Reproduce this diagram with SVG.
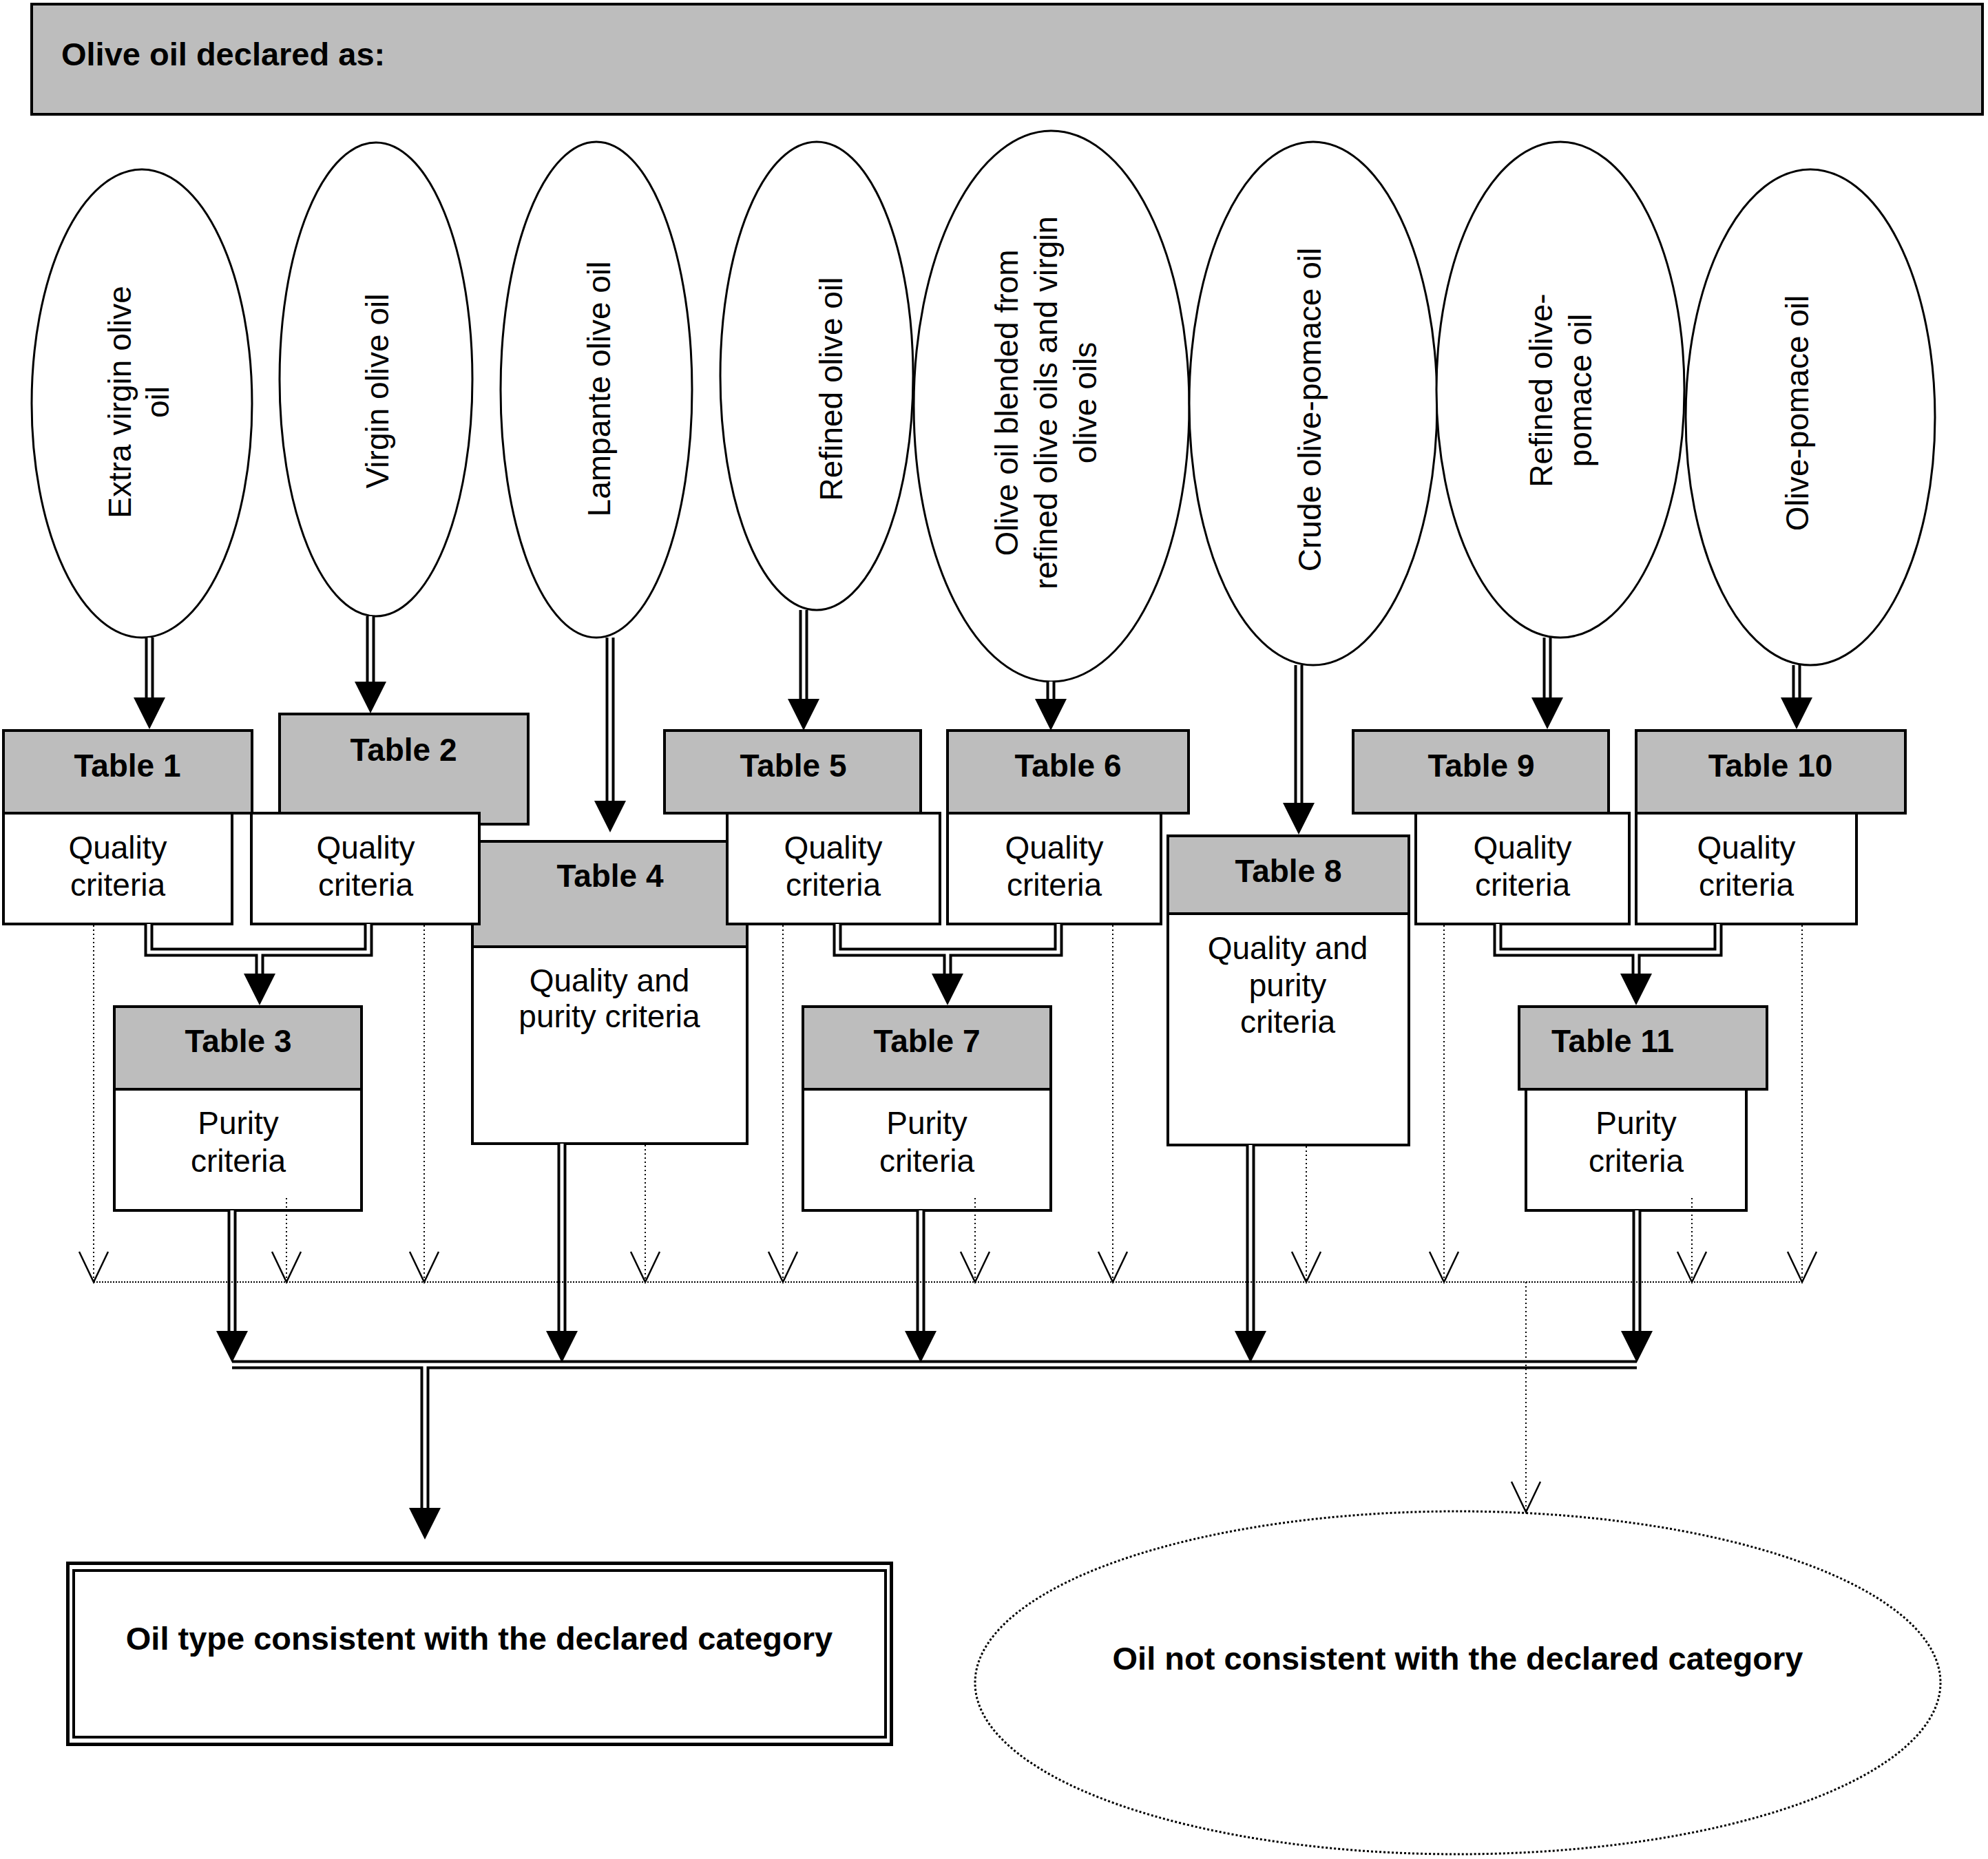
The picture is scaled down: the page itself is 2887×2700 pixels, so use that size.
<svg xmlns="http://www.w3.org/2000/svg" xmlns:xlink="http://www.w3.org/1999/xlink" width="2887" height="2700" viewBox="0 0 2887 2700">
<style>
.hdr{fill:#bdbdbd;stroke:#000;stroke-width:4}
.box{fill:#fff;stroke:#000;stroke-width:4}
.ell{fill:#fff;stroke:#000;stroke-width:3}
.t{font-family:"Liberation Sans",Arial,sans-serif;font-size:46px;text-anchor:middle;fill:#000}
.b{font-weight:bold}
.dbo{fill:none;stroke:#000;stroke-width:13}
.dbi{fill:none;stroke:#fff;stroke-width:5}
.dot{fill:none;stroke:#000;stroke-width:2;stroke-dasharray:2 4}
.doth{fill:none;stroke:#000;stroke-width:2;stroke-dasharray:2 2}
.vh{fill:none;stroke:#000;stroke-width:2.5}
</style>
<defs>
<polygon id="ah" points="-23,-46 23,-46 0,0" fill="#000"/>
<polyline id="vh" points="-21,-44 0,0 21,-44" class="vh"/>
</defs>
<rect width="2887" height="2700" fill="#fff"/>

<g id="title">
<rect x="46" y="6" width="2833" height="160" class="hdr"/>
<text x="89" y="95" class="t b" style="text-anchor:start;font-size:47px">Olive oil declared as:</text>
</g>

<g id="e1"><ellipse cx="206" cy="586" rx="160" ry="340" class="ell"/>
<text class="t" transform="translate(190,584) rotate(-90)"><tspan x="0" y="0">Extra virgin olive</tspan><tspan x="0" y="55">oil</tspan></text></g>
<g id="e2"><ellipse cx="546" cy="551" rx="140" ry="344" class="ell"/>
<text class="t" transform="translate(564,568) rotate(-90)">Virgin olive oil</text></g>
<g id="e3"><ellipse cx="866" cy="566" rx="139" ry="360" class="ell"/>
<text class="t" transform="translate(886,565) rotate(-90)">Lampante olive oil</text></g>
<g id="e4"><ellipse cx="1186" cy="546" rx="140" ry="340" class="ell"/>
<text class="t" transform="translate(1223,565) rotate(-90)">Refined olive oil</text></g>
<g id="e5"><ellipse cx="1527" cy="590" rx="200" ry="400" class="ell"/>
<text class="t" transform="translate(1478,585) rotate(-90)"><tspan x="0" y="0">Olive oil blended from</tspan><tspan x="0" y="57">refined olive oils and virgin</tspan><tspan x="0" y="114">olive oils</tspan></text></g>
<g id="e6"><ellipse cx="1907" cy="586" rx="180" ry="380" class="ell"/>
<text class="t" transform="translate(1918,595) rotate(-90)">Crude olive-pomace oil</text></g>
<g id="e7"><ellipse cx="2266" cy="566" rx="180" ry="360" class="ell"/>
<text class="t" transform="translate(2254,567) rotate(-90)"><tspan x="0" y="0">Refined olive-</tspan><tspan x="0" y="57">pomace oil</tspan></text></g>
<g id="e8"><ellipse cx="2629" cy="606" rx="181" ry="360" class="ell"/>
<text class="t" transform="translate(2626,600) rotate(-90)">Olive-pomace oil</text></g>

<g id="table2"><rect x="406" y="1037" width="361" height="160" class="hdr"/>
<text x="586" y="1105" class="t b">Table 2</text></g>
<g id="table4"><rect x="686" y="1222" width="399" height="153" class="hdr"/>
<rect x="686" y="1375" width="399" height="286" class="box"/>
<text x="886" y="1288" class="t b">Table 4</text>
<text x="885" y="1440" class="t">Quality and</text>
<text x="885" y="1492" class="t">purity criteria</text></g>
<g id="table1"><rect x="5" y="1061" width="361" height="120" class="hdr"/>
<rect x="5" y="1181" width="332" height="161" class="box"/>
<text x="185" y="1128" class="t b">Table 1</text>
<text x="171" y="1247" class="t">Quality</text>
<text x="171" y="1301" class="t">criteria</text></g>
<g id="quality2"><rect x="365" y="1181" width="331" height="161" class="box"/>
<text x="531" y="1247" class="t">Quality</text>
<text x="531" y="1301" class="t">criteria</text></g>
<g id="table3"><rect x="166" y="1462" width="359" height="120" class="hdr"/>
<rect x="166" y="1582" width="359" height="176" class="box"/>
<text x="346" y="1528" class="t b">Table 3</text>
<text x="346" y="1647" class="t">Purity</text>
<text x="346" y="1702" class="t">criteria</text></g>
<g id="table5"><rect x="965" y="1061" width="372" height="120" class="hdr"/>
<rect x="1056" y="1181" width="309" height="161" class="box"/>
<text x="1152" y="1128" class="t b">Table 5</text>
<text x="1210" y="1247" class="t">Quality</text>
<text x="1210" y="1301" class="t">criteria</text></g>
<g id="table6"><rect x="1376" y="1061" width="350" height="120" class="hdr"/>
<rect x="1376" y="1181" width="310" height="161" class="box"/>
<text x="1551" y="1128" class="t b">Table 6</text>
<text x="1531" y="1247" class="t">Quality</text>
<text x="1531" y="1301" class="t">criteria</text></g>
<g id="table7"><rect x="1166" y="1462" width="360" height="120" class="hdr"/>
<rect x="1166" y="1582" width="360" height="176" class="box"/>
<text x="1346" y="1528" class="t b">Table 7</text>
<text x="1346" y="1647" class="t">Purity</text>
<text x="1346" y="1702" class="t">criteria</text></g>
<g id="table8"><rect x="1696" y="1214" width="350" height="113" class="hdr"/>
<rect x="1696" y="1327" width="350" height="336" class="box"/>
<text x="1871" y="1281" class="t b">Table 8</text>
<text x="1870" y="1393" class="t">Quality and</text>
<text x="1870" y="1447" class="t">purity</text>
<text x="1870" y="1500" class="t">criteria</text></g>
<g id="table9"><rect x="1965" y="1061" width="371" height="120" class="hdr"/>
<rect x="2056" y="1181" width="310" height="161" class="box"/>
<text x="2151" y="1128" class="t b">Table 9</text>
<text x="2211" y="1247" class="t">Quality</text>
<text x="2211" y="1301" class="t">criteria</text></g>
<g id="table10"><rect x="2376" y="1061" width="391" height="120" class="hdr"/>
<rect x="2376" y="1181" width="320" height="161" class="box"/>
<text x="2571" y="1128" class="t b">Table 10</text>
<text x="2536" y="1247" class="t">Quality</text>
<text x="2536" y="1301" class="t">criteria</text></g>
<g id="table11"><rect x="2206" y="1462" width="360" height="120" class="hdr"/>
<rect x="2216" y="1582" width="320" height="176" class="box"/>
<text x="2342" y="1528" class="t b">Table 11</text>
<text x="2376" y="1647" class="t">Purity</text>
<text x="2376" y="1702" class="t">criteria</text></g>

<g id="consistent">
<rect x="98.5" y="2270.5" width="1196" height="263" fill="#fff" stroke="#000" stroke-width="5"/>
<rect x="107" y="2281" width="1179" height="242" fill="none" stroke="#000" stroke-width="4"/>
<text x="696" y="2396" class="t b" style="font-size:47px">Oil type consistent with the declared category</text>
</g>
<g id="notconsistent">
<ellipse cx="2117" cy="2444" rx="701" ry="249" fill="#fff" stroke="#000" stroke-width="3" stroke-dasharray="3 3"/>
<text x="2117" y="2425" class="t b" style="font-size:47px">Oil not consistent with the declared category</text>
</g>

<g id="connectors">
<g class="dbo">
<path d="M217,926V1014M538,895V991M886,926V1164M1167,886V1016M1526,990V1016M1886,966V1167M2247,926V1014M2609,966V1014"/>
<path d="M216,1342V1383H535V1342M377,1383V1415"/>
<path d="M1216,1342V1383H1537V1342M1376,1383V1415"/>
<path d="M2175,1342V1383H2495V1342M2376,1383V1415"/>
<path d="M337,1758V1934M816,1661V1934M1337,1758V1934M1816,1663V1934M2377,1758V1934"/>
<path d="M337,1982H2377M617,1982V2191"/>
</g>
<g class="dbi">
<path d="M217,926V1014M538,895V991M886,926V1164M1167,886V1016M1526,990V1016M1886,966V1167M2247,926V1014M2609,966V1014"/>
<path d="M216,1342V1383H535V1342M377,1383V1415"/>
<path d="M1216,1342V1383H1537V1342M1376,1383V1415"/>
<path d="M2175,1342V1383H2495V1342M2376,1383V1415"/>
<path d="M337,1758V1934M816,1661V1934M1337,1758V1934M1816,1663V1934M2377,1758V1934"/>
<path d="M337,1982H2377M617,1982V2191"/>
</g>
<use xlink:href="#ah" href="#ah" transform="translate(217,1059)"/>
<use xlink:href="#ah" href="#ah" transform="translate(538,1036)"/>
<use xlink:href="#ah" href="#ah" transform="translate(886,1209)"/>
<use xlink:href="#ah" href="#ah" transform="translate(1167,1061)"/>
<use xlink:href="#ah" href="#ah" transform="translate(1526,1061)"/>
<use xlink:href="#ah" href="#ah" transform="translate(1886,1212)"/>
<use xlink:href="#ah" href="#ah" transform="translate(2247,1059)"/>
<use xlink:href="#ah" href="#ah" transform="translate(2609,1059)"/>
<use xlink:href="#ah" href="#ah" transform="translate(377,1460)"/>
<use xlink:href="#ah" href="#ah" transform="translate(1376,1460)"/>
<use xlink:href="#ah" href="#ah" transform="translate(2376,1460)"/>
<use xlink:href="#ah" href="#ah" transform="translate(337,1979)"/>
<use xlink:href="#ah" href="#ah" transform="translate(816,1979)"/>
<use xlink:href="#ah" href="#ah" transform="translate(1337,1979)"/>
<use xlink:href="#ah" href="#ah" transform="translate(1816,1979)"/>
<use xlink:href="#ah" href="#ah" transform="translate(2377,1979)"/>
<use xlink:href="#ah" href="#ah" transform="translate(617,2236)"/>

<path class="dot" d="M136,1344V1862M416,1740V1862M616,1344V1862M937,1663V1862M1137,1344V1862M1416,1740V1862M1616,1344V1862M1897,1665V1862M2097,1344V1862M2457,1740V1862M2617,1344V1862M2216,1862V2196"/>
<path class="doth" d="M136,1862H2617"/>
<use xlink:href="#vh" href="#vh" transform="translate(136,1862)"/>
<use xlink:href="#vh" href="#vh" transform="translate(416,1862)"/>
<use xlink:href="#vh" href="#vh" transform="translate(616,1862)"/>
<use xlink:href="#vh" href="#vh" transform="translate(937,1862)"/>
<use xlink:href="#vh" href="#vh" transform="translate(1137,1862)"/>
<use xlink:href="#vh" href="#vh" transform="translate(1416,1862)"/>
<use xlink:href="#vh" href="#vh" transform="translate(1616,1862)"/>
<use xlink:href="#vh" href="#vh" transform="translate(1897,1862)"/>
<use xlink:href="#vh" href="#vh" transform="translate(2097,1862)"/>
<use xlink:href="#vh" href="#vh" transform="translate(2457,1862)"/>
<use xlink:href="#vh" href="#vh" transform="translate(2617,1862)"/>
<use xlink:href="#vh" href="#vh" transform="translate(2216,2196)"/>
</g>
</svg>
